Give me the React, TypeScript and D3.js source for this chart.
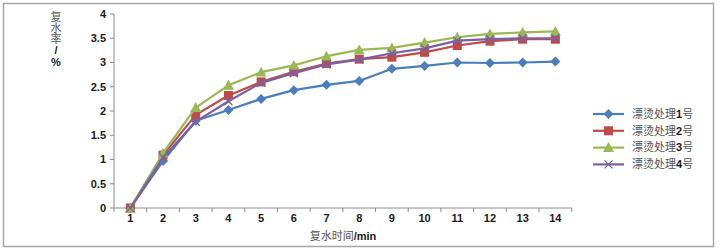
import React from "react";
import * as d3 from "d3";

const categories = ["1","2","3","4","5","6","7","8","9","10","11","12","13","14"];
const series1 = [0, 0.97, 1.8, 2.02, 2.25, 2.43, 2.54, 2.62, 2.87, 2.93, 3.0, 2.99, 3.0, 3.02];
const series2 = [0, 1.09, 1.92, 2.32, 2.6, 2.81, 2.98, 3.07, 3.11, 3.21, 3.35, 3.44, 3.48, 3.48];
const series3 = [0, 1.13, 2.07, 2.53, 2.8, 2.94, 3.13, 3.26, 3.3, 3.41, 3.52, 3.59, 3.62, 3.64];
const series4 = [0, 1.04, 1.78, 2.2, 2.58, 2.78, 2.96, 3.06, 3.19, 3.29, 3.45, 3.48, 3.5, 3.5];
const seriesNames = ["漂烫处理1号", "漂烫处理2号", "漂烫处理3号", "漂烫处理4号"];
const yTicks = [0, 0.5, 1, 1.5, 2, 2.5, 3, 3.5, 4];
const yTitleCjk = "复水率";
const yTitleUnit = "/%";
const xTitle = "复水时间/min";

const colors = ["#4a7ebb", "#be4b48", "#98b954", "#7d5fa0"];
const markers = ["diamond", "square", "triangle", "x"];
const latin = "'Liberation Sans', Arial, sans-serif";
const cjk = "'Noto Sans CJK SC', sans-serif";

function Marker({ type, x, y, color }: { type: string; x: number; y: number; color: string }) {
  if (type === "diamond") {
    const s = 5;
    return <path d={`M${x},${y - s}L${x + s},${y}L${x},${y + s}L${x - s},${y}Z`} fill={color} />;
  }
  if (type === "square") {
    const s = 4.5;
    return <rect x={x - s} y={y - s} width={2 * s} height={2 * s} fill={color} />;
  }
  if (type === "triangle") {
    const s = 5.5;
    return <path d={`M${x},${y - s}L${x + s},${y + s * 0.8}L${x - s},${y + s * 0.8}Z`} fill={color} />;
  }
  const s = 4;
  return (
    <path d={`M${x - s},${y - s}L${x + s},${y + s}M${x - s},${y + s}L${x + s},${y - s}`} stroke={color} strokeWidth={1.3} fill="none" />
  );
}

export default function App() {
  const W = 719, H = 250;
  const x = d3.scaleBand().domain(categories).range([114, 571.7]);
  const y = d3.scaleLinear().domain([0, 4]).range([208, 14]);
  const allSeries = [series1, series2, series3, series4];
  const line = d3
    .line<number>()
    .x((_, i) => (x(categories[i]) as number) + x.bandwidth() / 2)
    .y((d) => y(d));
  const axisColor = "#8c8c8c";
  const bandEdges = categories.map((c) => x(c) as number).concat([x.range()[1]]);

  return (
    <svg width={W} height={H} style={{ position: "absolute", left: 0, top: 0 }}>
      <rect x={0} y={0} width={W} height={H} fill="#fff" />
      <rect x={3.5} y={3.5} width={710} height={243} fill="none" stroke="#a6a6a6" strokeWidth={1.5} />
      {/* y axis */}
      <line x1={114} x2={114} y1={y(4)} y2={y(0)} stroke={axisColor} strokeWidth={1} />
      {yTicks.map((t) => (
        <g key={t}>
          <line x1={110} x2={114} y1={y(t)} y2={y(t)} stroke={axisColor} />
          <text x={106} y={y(t)} dy="0.35em" textAnchor="end" fontFamily={latin} fontWeight="bold" fontSize={11} fill="#1a1a1a">
            {String(t)}
          </text>
        </g>
      ))}
      {/* x axis */}
      <line x1={114} x2={x.range()[1]} y1={y(0)} y2={y(0)} stroke={axisColor} />
      {bandEdges.map((e, i) => (
        <line key={i} x1={e} x2={e} y1={y(0)} y2={y(0) + 4} stroke={axisColor} />
      ))}
      {categories.map((c) => (
        <text key={c} x={(x(c) as number) + x.bandwidth() / 2} y={222} textAnchor="middle" fontFamily={latin} fontWeight="bold" fontSize={11} fill="#1a1a1a">
          {c}
        </text>
      ))}
      {/* titles */}
      <text
        x={56}
        y={11}
        fontSize={11}
        style={{ writingMode: "vertical-rl", textOrientation: "upright" } as any}
        fill="#1a1a1a"
      >
        <tspan fontFamily={cjk} fill="#555">{yTitleCjk}</tspan>
        <tspan fontFamily={latin} fontWeight="bold">{yTitleUnit}</tspan>
      </text>
      <text x={343} y={240} textAnchor="middle" fontSize={11} fill="#1a1a1a">
        <tspan fontFamily={cjk} fill="#555">{xTitle.slice(0, 4)}</tspan>
        <tspan fontFamily={latin} fontWeight="bold">{xTitle.slice(4)}</tspan>
      </text>
      {/* series */}
      {allSeries.map((s, si) => (
        <g key={si}>
          <path d={line(s) as string} fill="none" stroke={colors[si]} strokeWidth={2.2} strokeLinejoin="round" />
          {s.map((v, i) => (
            <Marker key={i} type={markers[si]} x={(x(categories[i]) as number) + x.bandwidth() / 2} y={y(v)} color={colors[si]} />
          ))}
        </g>
      ))}
      {/* legend */}
      {seriesNames.map((n, i) => {
        const ly = 114 + i * 16.8;
        return (
          <g key={n}>
            <line x1={593} x2={624} y1={ly} y2={ly} stroke={colors[i]} strokeWidth={2.2} />
            <Marker type={markers[i]} x={608.5} y={ly} color={colors[i]} />
            <text x={632} y={ly} dy="0.35em" fontSize={11} fill="#555">
              <tspan fontFamily={cjk}>{n.slice(0, 4)}</tspan>
              <tspan fontFamily={latin} fontWeight="bold" fill="#1a1a1a">{n.slice(4, 5)}</tspan>
              <tspan fontFamily={cjk}>{n.slice(5)}</tspan>
            </text>
          </g>
        );
      })}
    </svg>
  );
}
